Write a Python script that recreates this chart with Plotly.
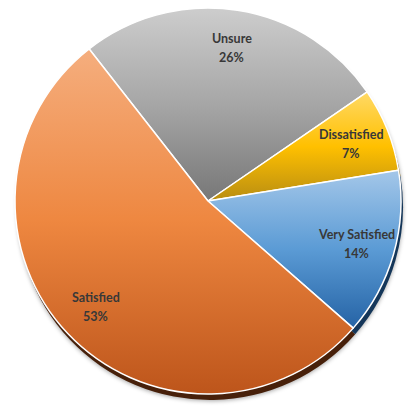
import json
import math
import plotly.graph_objects as go

# Survey responses, clockwise from the upper-left boundary
labels = ["Unsure", "Dissatisfied", "Very Satisfied", "Satisfied"]
shares = [26, 7, 14, 53]

# Vertical gradient stops per slice (top, middle, bottom)
face_gradients = [
    ["#cdcdcd", "#a6a6a6", "#777777"],
    ["#ffd966", "#ffc000", "#b88d12"],
    ["#a4c7e9", "#5b9bd5", "#2563a5"],
    ["#f5ae7e", "#ee8740", "#bd551b"],
]
face_colors = [g[1] for g in face_gradients]
# Darker tones for the pie's side wall
side_colors = ["#4a4a4a", "#6e5200", "#143659", "#47200a"]

start_angle = -38  # first slice begins 38 degrees left of 12 o'clock

W, H = 409, 407
margin = dict(l=15, r=6, t=8, b=7)
PW = W - margin["l"] - margin["r"]
PH = H - margin["t"] - margin["b"]
DIAM = 386
DEPTH_Y, DEPTH_X = PH - DIAM, PW - DIAM

fig = go.Figure()

# Side wall: the same pie shifted slightly down and right
fig.add_trace(go.Pie(
    labels=labels, values=shares, sort=False, direction="clockwise",
    rotation=start_angle, textinfo="none", hoverinfo="skip",
    marker=dict(colors=side_colors, line=dict(width=0)),
    domain=dict(x=[DEPTH_X / PW, 1], y=[0, DIAM / PH]),
    showlegend=False,
))

# Top face
fig.add_trace(go.Pie(
    labels=labels, values=shares, sort=False, direction="clockwise",
    rotation=start_angle, textinfo="none",
    marker=dict(colors=face_colors, line=dict(color="#ffffff", width=1.5)),
    domain=dict(x=[0, DIAM / PW], y=[DEPTH_Y / PH, 1]),
    showlegend=False,
))

# Labels placed along each slice's bisector
R = DIAM / 2
cx, cy = R, PH - R
total = sum(shares)
acc = 0.0
text_font = dict(family="Lato, Roboto, sans-serif",
                 size=12.5, color="#383838", weight="bold")
for lab, val in zip(labels, shares):
    mid = math.radians(start_angle + 360 * (acc + val / 2) / total)
    acc += val
    px = cx + 0.8 * R * math.sin(mid)
    py = cy + 0.8 * R * math.cos(mid)
    for txt, shift in ((lab, 9.5), (f"{round(100 * val / total)}%", -9.5)):
        fig.add_annotation(x=px / PW, y=py / PH, xref="paper", yref="paper",
                           xanchor="center", yanchor="middle",
                           text=txt, showarrow=False, yshift=shift, font=text_font)

fig.update_layout(
    width=W, height=H, margin=margin,
    paper_bgcolor="#ffffff", plot_bgcolor="#ffffff",
)

# Apply per-slice vertical gradients and a soft drop shadow once rendered
post = """
var gd = document.getElementsByClassName('plotly-graph-div')[0];
var NS = 'http://www.w3.org/2000/svg';
var grads = %s;
var svg = gd.querySelector('svg.main-svg');
var defs = svg.querySelector('defs');
if (!defs) { defs = document.createElementNS(NS, 'defs'); svg.insertBefore(defs, svg.firstChild); }
var traces = gd.querySelectorAll('.pielayer .trace');
var top = traces[traces.length - 1];
top.querySelectorAll('path.surface').forEach(function (p, i) {
  var g = document.createElementNS(NS, 'linearGradient');
  g.setAttribute('id', 'slicegrad' + i);
  g.setAttribute('x1', '0'); g.setAttribute('y1', '0');
  g.setAttribute('x2', '0'); g.setAttribute('y2', '1');
  grads[i].forEach(function (c, k) {
    var s = document.createElementNS(NS, 'stop');
    s.setAttribute('offset', (k / (grads[i].length - 1)).toString());
    s.setAttribute('stop-color', c);
    g.appendChild(s);
  });
  defs.appendChild(g);
  p.style.fill = 'url(#slicegrad' + i + ')';
});
traces[0].style.filter = 'drop-shadow(0px 1px 2px rgba(0,0,0,0.35))';
""" % json.dumps(face_gradients)

fig.write_html("out.html", post_script=post)
